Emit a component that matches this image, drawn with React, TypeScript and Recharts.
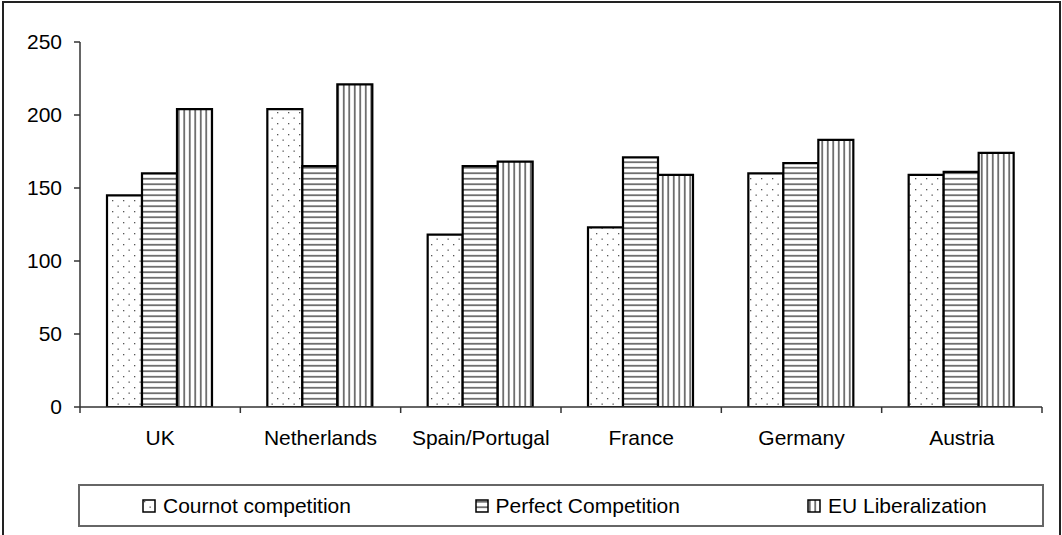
import React from 'react';
import { BarChart, Bar, XAxis, YAxis, Legend } from 'recharts';

// values
const categories = ['UK', 'Netherlands', 'Spain/Portugal', 'France', 'Germany', 'Austria'];
const cournot = [145, 204, 118, 123, 160, 159];
const perfect = [160, 165, 165, 171, 167, 161];
const euLib = [204, 221, 168, 159, 183, 174];
const seriesNames = ['Cournot competition', 'Perfect Competition', 'EU Liberalization'];
const yTicks = [0, 50, 100, 150, 200, 250];

const seriesKeys = ['cournot', 'perfect', 'eu'];
const patternIds = ['pat-dots', 'pat-hlines', 'pat-vlines'];

const data = categories.map((name, i) => ({
  name,
  cournot: cournot[i],
  perfect: perfect[i],
  eu: euLib[i],
}));

const W = 1062;
const H = 535;
const MARGIN = { top: 42, right: 20, left: 0, bottom: 25 };
const Y_AXIS_W = 80;
const PLOT_W = W - MARGIN.right - Y_AXIS_W;
const BAND = PLOT_W / categories.length;
const FONT = '"Liberation Sans", Arial, sans-serif';
const FONT_SIZE = 21;
const AXIS = '#333';

function Patterns() {
  return (
    <svg width={0} height={0} style={{ position: 'absolute' }}>
      <defs>
        <pattern id="pat-dots" patternUnits="userSpaceOnUse" width={11} height={11}>
          <rect width={11} height={11} fill="#fff" />
          <rect x={2} y={2} width={1.3} height={1.3} fill="#555" />
          <rect x={7.5} y={7.5} width={1.3} height={1.3} fill="#555" />
        </pattern>
        <pattern id="pat-hlines" patternUnits="userSpaceOnUse" width={10} height={5.5}>
          <rect width={10} height={5.5} fill="#fff" />
          <line x1={0} x2={10} y1={2.75} y2={2.75} stroke="#222" strokeWidth={1.2} />
        </pattern>
        <pattern id="pat-vlines" patternUnits="userSpaceOnUse" width={5.5} height={10}>
          <rect width={5.5} height={10} fill="#fff" />
          <line x1={2.75} x2={2.75} y1={0} y2={10} stroke="#222" strokeWidth={1.2} />
        </pattern>
      </defs>
    </svg>
  );
}

// category label + tick marks between categories (like Excel)
function CategoryTick(props: any) {
  const { x, y, payload, index } = props;
  const last = index === categories.length - 1;
  return (
    <g>
      <line x1={x - BAND / 2} x2={x - BAND / 2} y1={y} y2={y + 6} stroke={AXIS} strokeWidth={1.5} />
      {last && <line x1={x + BAND / 2} x2={x + BAND / 2} y1={y} y2={y + 6} stroke={AXIS} strokeWidth={1.5} />}
      <text x={x} y={y + 38} textAnchor="middle" fontSize={FONT_SIZE} fontFamily={FONT} fill="#000">
        {payload.value}
      </text>
    </g>
  );
}

function LegendBox() {
  return (
    <div
      style={{
        boxSizing: 'border-box',
        width: 966,
        height: 43,
        border: '2px solid #666',
        position: 'relative',
        fontFamily: FONT,
        fontSize: FONT_SIZE,
        background: '#fff',
      }}
    >
      {seriesNames.map((name, i) => (
        <div
          key={name}
          style={{
            position: 'absolute',
            left: 62 + i * 332.5,
            top: 0,
            height: 39,
            display: 'flex',
            alignItems: 'center',
            whiteSpace: 'nowrap',
          }}
        >
          <svg width={14} height={14} style={{ marginRight: 7 }}>
            <rect x={1} y={1} width={12} height={12} fill={`url(#${patternIds[i]})`} stroke="#000" strokeWidth={1.5} />
          </svg>
          <span>{name}</span>
        </div>
      ))}
    </div>
  );
}

export default function App() {
  return (
    <div style={{ position: 'absolute', left: 0, top: 0, width: W, height: H, overflow: 'hidden', background: '#fff' }}>
      <Patterns />
      <div
        style={{
          position: 'absolute',
          left: 2,
          top: 1,
          width: 1059,
          height: 560,
          border: '2px solid #222',
          boxSizing: 'border-box',
        }}
      />
      <BarChart width={W} height={H} data={data} margin={MARGIN} barCategoryGap={27} barGap={0}>
        <XAxis
          dataKey="name"
          height={60}
          tickSize={0}
          tickMargin={0}
          tickLine={false}
          axisLine={{ stroke: AXIS, strokeWidth: 1.5 }}
          tick={<CategoryTick />}
          interval={0}
        />
        <XAxis
          xAxisId="top"
          dataKey="name"
          orientation="top"
          height={0}
          tick={false}
          tickLine={false}
          axisLine={{ stroke: '#8c8c8c', strokeWidth: 2 }}
        />
        <YAxis
          width={Y_AXIS_W}
          domain={[0, 250]}
          ticks={yTicks}
          tickSize={6}
          tickMargin={12}
          axisLine={{ stroke: AXIS, strokeWidth: 1.5 }}
          tickLine={{ stroke: AXIS, strokeWidth: 1.5 }}
          tick={{ fontSize: FONT_SIZE, fontFamily: FONT, fill: '#000' }}
          allowDataOverflow
        />
        <YAxis
          yAxisId="right"
          orientation="right"
          width={0}
          domain={[0, 250]}
          tick={false}
          tickLine={false}
          axisLine={{ stroke: '#8c8c8c', strokeWidth: 2 }}
        />
        {seriesKeys.map((key, i) => (
          <Bar
            key={key}
            dataKey={key}
            name={seriesNames[i]}
            fill={`url(#${patternIds[i]})`}
            stroke="#000"
            strokeWidth={2.2}
            isAnimationActive={false}
          />
        ))}
        <Legend
          verticalAlign="bottom"
          width={966}
          height={43}
          wrapperStyle={{ left: 78, bottom: 8, width: 966, height: 43 }}
          content={() => <LegendBox />}
        />
      </BarChart>
    </div>
  );
}
